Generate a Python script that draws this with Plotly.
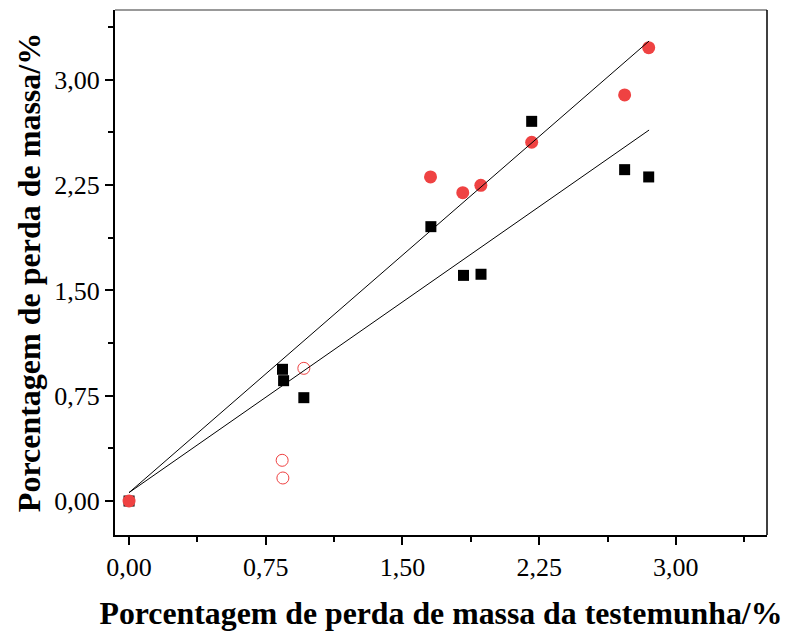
import plotly.graph_objects as go

# Black squares
sq_x = [0.0, 0.842, 0.848, 0.959, 1.656, 1.835, 1.931, 2.209, 2.719, 2.851]
sq_y = [0.0, 0.938, 0.857, 0.736, 1.954, 1.607, 1.615, 2.704, 2.360, 2.308]

# Red filled circles
rc_x = [0.0, 1.654, 1.831, 1.930, 2.209, 2.719, 2.851]
rc_y = [0.0, 2.308, 2.196, 2.248, 2.555, 2.892, 3.229]

# Red open circles
ro_x = [0.959, 0.840, 0.844]
ro_y = [0.945, 0.290, 0.164]

# Fitted lines (end points)
fit_x = [0.0, 2.853]
fit_upper = [0.06, 3.276]
fit_lower = [0.06, 2.642]

tick_vals = [0.0, 0.75, 1.5, 2.25, 3.0]

RED = "#EF4242"
FONT = "Liberation Serif"

fig = go.Figure()
fig.add_trace(go.Scatter(x=sq_x, y=sq_y, mode="markers",
                         marker=dict(symbol="square", size=11, color="black"),
                         showlegend=False))
fig.add_trace(go.Scatter(x=rc_x, y=rc_y, mode="markers",
                         marker=dict(symbol="circle", size=13, color=RED),
                         showlegend=False))
fig.add_trace(go.Scatter(x=ro_x, y=ro_y, mode="markers",
                         marker=dict(symbol="circle-open", size=12, color=RED,
                                     line=dict(width=1, color=RED)),
                         showlegend=False))
fig.add_trace(go.Scatter(x=fit_x, y=fit_upper, mode="lines",
                         line=dict(color="black", width=1), showlegend=False))
fig.add_trace(go.Scatter(x=fit_x, y=fit_lower, mode="lines",
                         line=dict(color="black", width=1), showlegend=False))

axis_common = dict(
    tickvals=tick_vals, tickformat=".2f",
    ticks="outside", ticklen=8, tickwidth=2, tickcolor="black",
    showline=True, linecolor="black", linewidth=2, mirror=False,
    showgrid=False, zeroline=False, automargin=False,
    tickfont=dict(family=FONT, size=26, color="black"),
    minor=dict(ticks="outside", ticklen=5, tickwidth=2, tickcolor="black",
               dtick=0.375, tick0=0, showgrid=False),
)

fig.update_layout(
    width=789, height=631,
    margin=dict(l=115, r=22, t=10, b=96),
    plot_bgcolor="white", paper_bgcolor="white",
    separators=",.",
    xaxis=dict(range=[-0.077, 3.5],
               title=dict(text="<b>Porcentagem de perda de massa da testemunha/%</b>",
                          font=dict(family=FONT, size=31.8, color="black"), standoff=22),
               **axis_common),
    yaxis=dict(range=[-0.242, 3.497],
               title=dict(text="<b>Porcentagem de perda de massa/%</b>",
                          font=dict(family=FONT, size=32, color="black"), standoff=4),
               **axis_common),
    shapes=[
        dict(type="line", xref="paper", yref="paper", x0=0, x1=1, y0=1, y1=1,
             line=dict(color="#777777", width=1.5)),
        dict(type="line", xref="paper", yref="paper", x0=1, x1=1, y0=0, y1=1,
             line=dict(color="black", width=1.5)),
    ],
)

fig.write_html("out.html")
